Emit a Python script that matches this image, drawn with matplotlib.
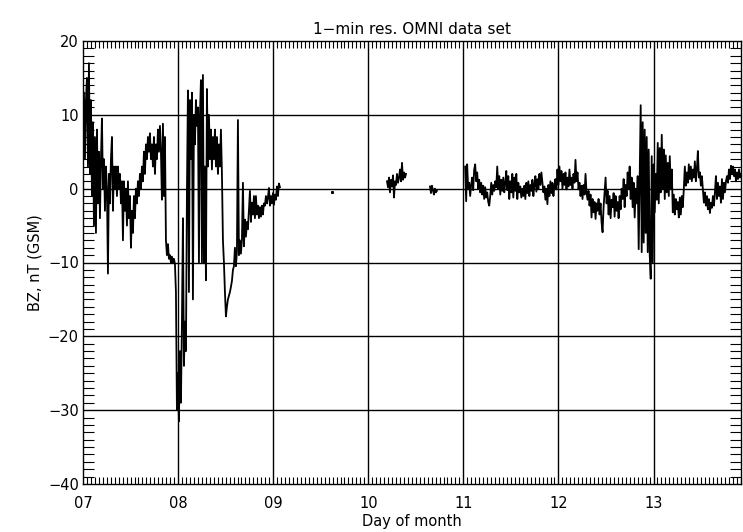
import numpy as np
import matplotlib
matplotlib.use("Agg")
import matplotlib.pyplot as plt
from matplotlib.ticker import MultipleLocator, FixedLocator, FixedFormatter

# 1-min OMNI IMF Bz (GSM), nT, sampled along the time axis of each data segment
seg1_span = (7.010, 9.071)
seg1_bz = [13, 4, 12, 15, 3, 17, 2, 12, -1, 9, -5, 7, -6, 8, -2, 5, -4, 4, 9.5, 0,
           4, -3, 3, 0, -11.5, 2, -2, 4, 7, -3, 3, 0, 3, -1, 3, 0, 2, -2, 1, -7,
           1, -3, 0, -5, 1, -4, -1, -8, -3, -6, -1, -4, 0, -2, 1, -1, 2, 0, 3, 1,
           5, 2, 6, 4, 7, 5, 7.5, 4, 6, 3, 7, 2, 6, 4, 8, 5, 8.5, 5, -1.5, 8.8,
           -1, 7, -7, -9, -7.5, -9.5, -9, -10, -9.2, -10, -9.5, -10.2, -14, -30, -25, -31.5, -22, -29, -18, -4,
           -24, -18, -22, -0.5, 13.3, -14, 12, 4, 13, -15, 10, 6, 12, 8.5, 11, -10, 10, 14.7, -10, 15.4,
           -10, 3, -12.4, 13.5, 3, 10, 4, 8, 2.6, 7, 4, 8, 3, 7, 2, 6, 3, 8, 2, -7,
           -10, -14, -17.3, -16, -15, -14.5, -14, -13.3, -12.5, -11, -10.5, -8, -10.5, -8.5, 9.3, -9, -7, -8.8, -6.9, 0.8,
           -7.8, -4.2, -6.5, -4.5, -5.5, -3, -0.3, -4.5, -1.9, -3.5, -1.0, -4, -1, -3.5, -2.3, -4, -2.5, -3.8, -2.3, -3.5,
           -2, -2.3, -1, -2, -1.2, 0.1, -2.3, -1, -2, -0.6, -2.2, -0.8, -1.5, 0.3, -1, 0.7, 0.2]

dot_day = [9.618]
dot_bz = [-0.5]

seg3_span = (10.197, 10.397)
seg3_bz = [1.0, 0.2, 1.5, -0.5, 1.2, 0.3, 1.8, -1.2, 1.0, 0.5, 2.0, 0.8, 1.5, 2.6, 1.0,
           3.5, 1.2, 2.2, 1.5, 2.0]

seg4_span = (10.649, 10.722)
seg4_bz = [0.3, -0.6, 0.4, -0.2, -0.8, 0.0, -0.5, -0.3]

seg5_span = (11.019, 13.920)
seg5_bz = [3.0, -1.7, 3.3, 0.0, 0.8, -1.0, 0.5, 1.5, -0.2, 2.6, 3.3, 1.0, 2.2, 0.0, 1.2,
           -0.5, 0.8, -0.8, 0.4, -1.4, 0.2, -1.2, -0.5, -1.8, -2.3, -1.0, 0.8, -0.8, 0.5, -0.3,
           1.0, 0.2, 3.0, 0.0, 1.7, -0.8, 1.2, -0.3, 1.5, -0.5, 0.8, 2.4, -0.2, 1.7, -1.4,
           1.0, -0.5, 2.0, -1.2, 1.5, -0.3, 2.0, -1.4, 0.8, -0.5, 0.3, -1.2, 0.0, -1.0, 0.4,
           -1.4, 0.8, -0.6, 1.0, -1.0, 0.5, -0.3, 1.2, -1.0, 0.6, 1.7, -0.4, 1.3, 0.0, 2.0,
           0.5, 2.2, 0.8, -0.5, 0.3, -1.5, 0.0, -2.1, 0.5, -1.0, 1.0, -0.6, 0.8, -1.0, 0.4,
           1.3, -0.1, 2.6, 0.5, 3.0, 1.0, 2.4, 0.0, 2.0, 0.5, 2.2, -0.1, 1.5, 0.3, 2.6,
           0.5, 1.5, 0.0, 2.0, 0.8, 3.9, 1.0, 2.2, -0.1, 0.8, -1.0, 0.4, -1.4, 0.5, -0.8,
           2.0, -0.5, -1.5, -0.3, -2.3, -0.8, -3.9, -1.4, -3.2, -1.8, -4.1, -2.0, -3.0, -1.4, -3.5,
           -2.0, -4.6, -5.9, -2.5, -0.5, 1.5, -2.0, -0.3, -3.5, -1.0, -4.0, -1.5, -2.5, -0.6, -3.8,
           -1.0, -3.0, -1.8, -4.0, -1.0, -2.8, 0.0, -1.4, 1.3, -2.5, 0.5, -1.0, 2.2, 0.0, 3.0,
           -1.4, 1.5, -2.5, 0.8, -3.9, 0.0, -2.0, 1.7, -8.2, 2.0, 11.3, -8.6, 9.0, -7.3, 8.0,
           -6.0, 7.0, -8.6, 5.3, -9.0, -12.2, 4.4, -10.0, 3.3, -3.2, 2.0, -1.5, 6.2, -2.0, 5.5,
           -0.5, 7.3, 0.0, 5.3, -1.4, 4.5, -0.5, 3.5, -1.0, 4.4, 0.0, 2.6, -3.2, -0.8, -3.5,
           -1.4, -2.8, -1.8, -3.9, -1.2, -3.5, -1.0, -2.5, 0.0, 3.0, 0.4, 2.2, 0.8, 3.3, 1.3,
           3.0, 1.0, 2.6, 1.5, 3.7, 1.0, 2.6, 5.1, 1.5, 2.2, 0.4, 1.7, -0.1, -1.9, -0.5,
           -2.3, -1.0, -2.8, -1.4, -3.3, -1.9, -2.6, -1.0, -2.3, -0.5, 1.7, -1.4, 0.8, -1.0, 0.3,
           -1.9, 1.3, -1.4, 0.8, -0.5, 1.0, 1.7, 0.8, 2.6, 1.3, 3.1, 2.0, 3.0, 1.7, 2.6,
           1.0, 2.2, 1.3, 2.6, 1.5, 2.0]

day_ticks = [7, 8, 9, 10, 11, 12, 13]
day_labels = ["07", "08", "09", "10", "11", "12", "13"]
bz_ticks = [-40, -30, -20, -10, 0, 10, 20]
x_range = (7.0, 13.92)
y_range = (-40, 20)

plt.rcParams["font.family"] = ["DejaVu Sans"]
fig = plt.figure(figsize=(7.43, 5.32), dpi=100)
ax = fig.add_axes([83 / 743, 1 - 484 / 532, (741 - 83) / 743, (484 - 41) / 532])

for ytick in bz_ticks[1:-1]:
    ax.axhline(ytick, color="black", lw=1.0, zorder=1)
for xtick in day_ticks[1:]:
    ax.axvline(xtick, color="black", lw=1.0, zorder=1)

for span, vals in [(seg1_span, seg1_bz), (seg3_span, seg3_bz),
                   (seg4_span, seg4_bz), (seg5_span, seg5_bz)]:
    t = np.linspace(span[0], span[1], len(vals))
    ax.plot(t, vals, color="black", lw=1.3, zorder=3)
ax.plot(dot_day, dot_bz, color="black", marker="s", ms=1.2, lw=0, zorder=3)

ax.set_xlim(*x_range)
ax.set_ylim(*y_range)
ax.xaxis.set_major_locator(FixedLocator(day_ticks))
ax.xaxis.set_major_formatter(FixedFormatter(day_labels))
ax.xaxis.set_minor_locator(MultipleLocator(1 / 24))
ax.yaxis.set_major_locator(FixedLocator(bz_ticks))
ax.yaxis.set_minor_locator(MultipleLocator(1))

ax.tick_params(axis="x", which="both", direction="in", top=True, bottom=True,
               labelsize=10.5, pad=9)
ax.tick_params(axis="x", which="major", length=0)
ax.tick_params(axis="x", which="minor", length=5, width=0.8)
ax.tick_params(axis="y", which="both", direction="in", left=True, right=True,
               labelsize=10.5, pad=3)
ax.tick_params(axis="y", which="major", length=0)
ax.tick_params(axis="y", which="minor", length=8, width=0.8)
for sp in ax.spines.values():
    sp.set_linewidth(1.0)

ax.set_title("1\u2212min res. OMNI data set", fontsize=11, pad=5)
ax.set_xlabel("Day of month", fontsize=10.5, labelpad=2)
ax.set_ylabel("BZ, nT (GSM)", fontsize=10.5, labelpad=4)

fig.savefig("out.png", dpi=100)
